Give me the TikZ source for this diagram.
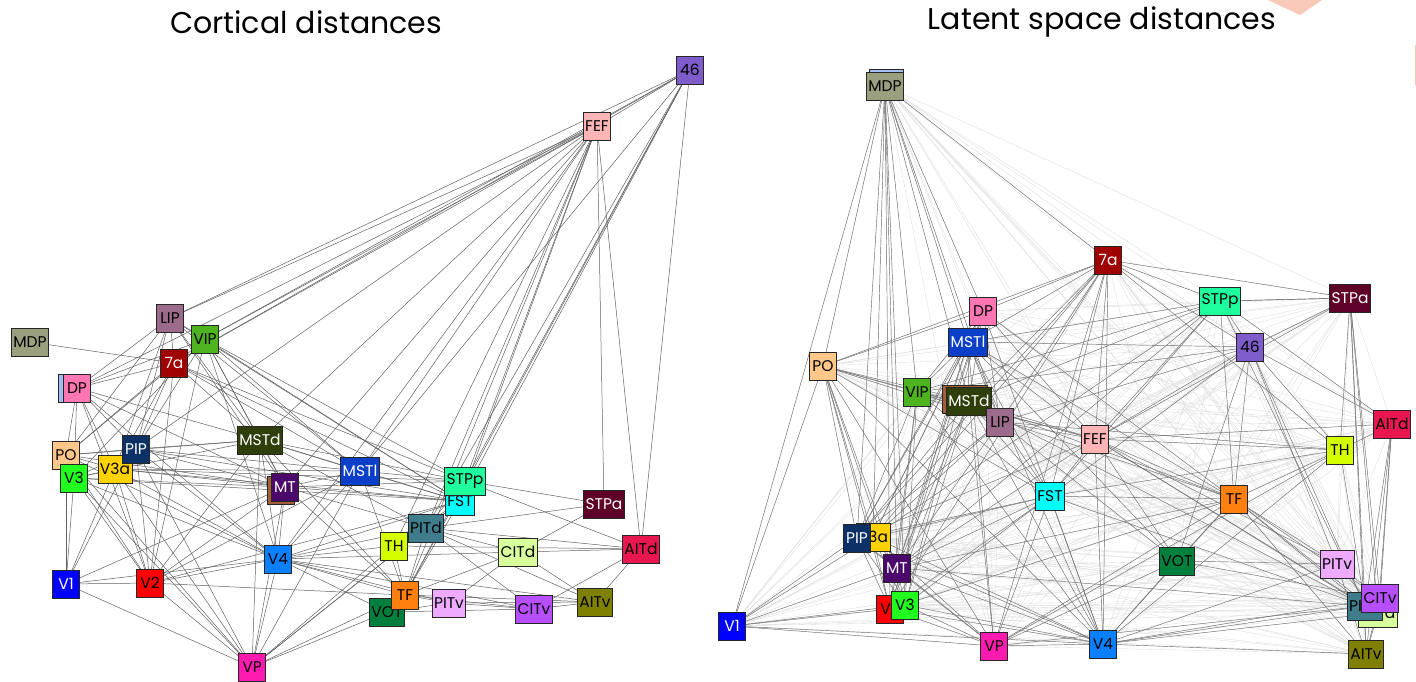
\documentclass[tikz,border=0pt]{standalone}
\usepackage{fontspec}
\setmainfont{Poppins}
\pgfdeclarelayer{bgl}
\pgfdeclarelayer{edges}
\pgfsetlayers{bgl,edges,main}
\definecolor{c46}{HTML}{7E5CCB}
\definecolor{cFEF}{HTML}{FFB5B5}
\definecolor{cLIP}{HTML}{9C6B8B}
\definecolor{cMDP}{HTML}{9AA07E}
\definecolor{cVIP}{HTML}{4DB31E}
\definecolor{c7a}{HTML}{A00000}
\definecolor{cDP}{HTML}{FF76B2}
\definecolor{cDPb}{HTML}{A3BCF2}
\definecolor{cPO}{HTML}{FFC88A}
\definecolor{cV3}{HTML}{20FF20}
\definecolor{cPIP}{HTML}{0B3166}
\definecolor{cV3a}{HTML}{FFD200}
\definecolor{cMSTd}{HTML}{2E3F0A}
\definecolor{cMT}{HTML}{4B0A6B}
\definecolor{cMTb}{HTML}{A45F3A}
\definecolor{cMSTl}{HTML}{0B3FC9}
\definecolor{cSTPp}{HTML}{1EFF9E}
\definecolor{cFST}{HTML}{00FFFF}
\definecolor{cSTPa}{HTML}{5E0028}
\definecolor{cPITd}{HTML}{3F7D8D}
\definecolor{cTH}{HTML}{D4FF00}
\definecolor{cCITd}{HTML}{D9FF9C}
\definecolor{cAITd}{HTML}{E8174F}
\definecolor{cV1}{HTML}{0000FF}
\definecolor{cV2}{HTML}{FF0000}
\definecolor{cV4}{HTML}{0A80FF}
\definecolor{cTF}{HTML}{FF800E}
\definecolor{cVOT}{HTML}{00803C}
\definecolor{cPITv}{HTML}{EEAAFF}
\definecolor{cCITv}{HTML}{B84FFF}
\definecolor{cAITv}{HTML}{808000}
\definecolor{cVP}{HTML}{FF1AB0}
\definecolor{corg}{HTML}{F8C8B8}
\newcommand\rn[6]{\node[roi,fill=#5,text=#6] (#1) at (#2,#3) {#4};}
\def\EL{MDP/7a,LIP/VIP,LIP/7a,LIP/DP,LIP/PO,LIP/V3a,LIP/PIP,LIP/MSTd,LIP/MT,LIP/FEF,LIP/46,LIP/MSTl,LIP/FST,
VIP/FEF,VIP/46,VIP/DP,VIP/PO,VIP/V3,VIP/MT,VIP/MSTd,VIP/MSTl,VIP/FST,VIP/STPp,VIP/V4,VIP/V2,VIP/PIP,
7a/DP,7a/PO,7a/V3a,7a/PIP,7a/MSTd,7a/MSTl,7a/FEF,7a/46,7a/STPp,7a/FST,7a/V2,
DP/PO,DP/V3,DP/V3a,DP/MSTd,DP/V4,DP/FEF,DP/PIP,DP/V2,DP/MT,
PO/V1,PO/V2,PO/V3,PO/V3a,PO/PIP,PO/MT,PO/V4,PO/VP,PO/MSTd,
V3/V1,V3/V2,V3/V4,V3/MT,V3/VP,V3/PIP,V3/FST,V3/MSTd,V3/V3a,
V3a/V1,V3a/V2,V3a/V4,V3a/MT,V3a/MSTl,V3a/FST,V3a/VP,V3a/PIP,V3a/STPp,
PIP/V1,PIP/V2,PIP/MT,PIP/MSTd,PIP/MSTl,PIP/FST,PIP/V4,PIP/VP,
MSTd/MT,MSTd/MSTl,MSTd/FST,MSTd/V4,MSTd/V2,MSTd/VP,MSTd/TF,MSTd/STPp,MSTd/PITd,
MT/MSTl,MT/FST,MT/V1,MT/V2,MT/V4,MT/VP,MT/TF,MT/STPp,MT/PITd,
MSTl/FST,MSTl/STPp,MSTl/V4,MSTl/TF,MSTl/VP,MSTl/FEF,MSTl/V2,
FST/STPp,FST/V4,FST/TF,FST/PITd,FST/TH,FST/FEF,FST/46,FST/V2,FST/VP,
STPp/STPa,STPp/AITd,STPp/FEF,STPp/46,STPp/TF,STPp/PITd,
STPa/PITd,STPa/CITd,STPa/FEF,FEF/46,FEF/MSTd,FEF/MT,FEF/PIP,FEF/PITd,FEF/TF,FEF/AITd,FEF/V4,FEF/TH,
46/AITd,46/PITd,46/TF,46/MSTl,
PITd/TF,PITd/TH,PITd/CITd,PITd/CITv,PITd/AITd,PITd/V4,PITd/AITv,PITd/VP,
TH/TF,TH/V4,TH/VP,TH/AITd,
CITd/AITd,CITd/AITv,CITd/TF,CITd/PITv,CITd/V4,
AITd/AITv,AITd/CITv,
V1/V2,V1/V4,V1/VP,V2/V4,V2/VP,V2/TF,
V4/VP,V4/TF,V4/VOT,V4/PITv,V4/CITv,V4/AITv,
TF/VOT,TF/PITv,TF/VP,TF/CITv,TF/AITv,
VOT/VP,VOT/PITv,VOT/CITv,PITv/CITv,PITv/AITv,CITv/AITv}
\def\ER{MDP/V1,MDP/DP,MDP/MSTl,MDP/VIP,MDP/PIP,MDP/V3a,MDP/MT,MDP/V2,MDP/V3,MDP/PO,MDP/LIP,MDP/MSTd,
7a/STPa,STPp/STPa,STPa/46,STPa/TH,STPa/CITv,STPa/AITv,46/TH,46/PITv,46/VOT,7a/TH,7a/V4,7a/VP,
FEF/VOT,FEF/PITv,FEF/CITd,LIP/TH,LIP/VOT,MSTl/VOT,VIP/TF,DP/TF,PO/FST,PO/FEF}
\def\ALL{MDP,7a,STPp,STPa,DP,46,MSTl,PO,VIP,MSTd,LIP,FEF,AITd,TH,FST,TF,PIP,V3a,MT,VOT,PITv,CITv,PITd,CITd,V2,V3,V1,VP,V4,AITv}
\begin{document}
\begin{tikzpicture}[x=1pt,y=-1pt,
  roi/.style={draw=black!85,line width=0.9pt,minimum width=27pt,minimum height=28pt,
    inner xsep=2pt,inner ysep=0pt,font=\fontsize{15.5}{15.5}\selectfont},
  ledge/.style={draw=black!62,line width=0.5pt},
  redge/.style={draw=black!55,line width=0.45pt},
  faint/.style={draw=black!13,line width=0.35pt},
  title/.style={font=\fontsize{30}{32}\selectfont,inner sep=0pt}]
\begin{pgfonlayer}{bgl}
\fill[white] (0,0) rectangle (1416,681);
\fill[corg] (1268,0) -- (1322,0) -- (1300,15) -- cycle;
\draw[corg,line width=0.8pt] (1415,45) -- (1415,85);
\end{pgfonlayer}
\useasboundingbox (0,0) rectangle (1416,681);
\node[title] (t1) at (306,22) {Cortical distances};
\node[title] (t2) at (1102,22) {Latent space distances};
% ---------------- left graph
\rn{L46}{690}{70}{46}{c46}{black}
\rn{LFEF}{597}{126}{FEF}{cFEF}{black}
\rn{LMDP}{30}{342}{MDP}{cMDP}{black}
\rn{LLIP}{170}{318}{LIP}{cLIP}{black}
\rn{LVIP}{205}{339}{VIP}{cVIP}{black}
\rn{L7a}{174}{363}{7a}{c7a}{white}
\node[roi,fill=cDPb] (LDPb) at (72,388) {\phantom{DP}};
\rn{LDP}{77}{388}{DP}{cDP}{black}
\rn{LPO}{66}{455}{PO}{cPO}{black}
\rn{LV3}{74}{478}{V3}{cV3}{black}
\rn{LV3a}{115}{469}{V3a}{cV3a}{black}
\rn{LPIP}{136}{449}{PIP}{cPIP}{white}
\rn{LMSTd}{260}{440}{MSTd}{cMSTd}{white}
\node[roi,fill=cMTb] (LMTb) at (281,490) {\phantom{MT}};
\rn{LMT}{285}{487}{MT}{cMT}{white}
\rn{LMSTl}{360}{471}{MSTl}{cMSTl}{white}
\rn{LFST}{460}{501}{FST}{cFST}{black}
\rn{LSTPp}{465}{481}{STPp}{cSTPp}{black}
\rn{LSTPa}{604}{504}{STPa}{cSTPa}{white}
\rn{LPITd}{426}{528}{PITd}{cPITd}{black}
\rn{LTH}{394}{546}{TH}{cTH}{black}
\rn{LCITd}{518}{552}{CITd}{cCITd}{black}
\rn{LAITd}{641}{549}{AITd}{cAITd}{black}
\rn{LV1}{66}{584}{V1}{cV1}{white}
\rn{LV2}{150}{583}{V2}{cV2}{black}
\rn{LV4}{278}{559}{V4}{cV4}{black}
\rn{LVOT}{387}{612}{VOT}{cVOT}{black}
\rn{LTF}{405}{595}{TF}{cTF}{black}
\rn{LPITv}{449}{603}{PITv}{cPITv}{black}
\rn{LCITv}{534}{609}{CITv}{cCITv}{black}
\rn{LAITv}{595}{602}{AITv}{cAITv}{black}
\rn{LVP}{252}{667}{VP}{cVP}{black}
% ---------------- right graph
\node[roi,fill=cDPb,minimum width=34pt] (RMDPb) at (886,83) {};
\rn{RMDP}{885}{86}{MDP}{cMDP}{black}
\rn{R7a}{1108}{260}{7a}{c7a}{white}
\rn{RSTPp}{1220}{301}{STPp}{cSTPp}{black}
\rn{RSTPa}{1350}{298}{STPa}{cSTPa}{white}
\rn{RDP}{983}{311}{DP}{cDP}{black}
\rn{R46}{1250}{347}{46}{c46}{black}
\rn{RMSTl}{968}{342}{MSTl}{cMSTl}{white}
\rn{RPO}{823}{366}{PO}{cPO}{black}
\rn{RVIP}{917}{392}{VIP}{cVIP}{black}
\node[roi,fill=cMTb] (RMSTdb) at (965,399) {\phantom{MSTd}};
\rn{RMSTd}{969}{401}{MSTd}{cMSTd}{white}
\rn{RLIP}{1000}{422}{LIP}{cLIP}{black}
\rn{RFEF}{1095}{439}{FEF}{cFEF}{black}
\rn{RAITd}{1392}{424}{AITd}{cAITd}{black}
\rn{RTH}{1340}{450}{TH}{cTH}{black}
\rn{RFST}{1050}{496}{FST}{cFST}{black}
\rn{RTF}{1234}{499}{TF}{cTF}{black}
\rn{RV3a}{873}{537}{V3a}{cV3a}{black}
\rn{RPIP}{857}{538}{PIP}{cPIP}{white}
\rn{RMT}{897}{568}{MT}{cMT}{white}
\rn{RVOT}{1177}{561}{VOT}{cVOT}{black}
\rn{RPITv}{1337}{564}{PITv}{cPITv}{black}
\rn{RCITd}{1378}{613}{CITd}{cCITd}{black}
\rn{RPITd}{1365}{606}{PITd}{cPITd}{black}
\rn{RCITv}{1380}{598}{CITv}{cCITv}{black}
\rn{RV2}{890}{609}{V2}{cV2}{black}
\rn{RV3}{905}{605}{V3}{cV3}{black}
\rn{RV1}{732}{626}{V1}{cV1}{white}
\rn{RVP}{994}{646}{VP}{cVP}{black}
\rn{RV4}{1103}{644}{V4}{cV4}{black}
\rn{RAITv}{1366}{654}{AITv}{cAITv}{black}
% ---------------- edges
\begin{pgfonlayer}{edges}
\foreach \a/\b in \EL {\draw[ledge] (L\a.center) -- (L\b.center);}
\foreach \a [count=\i] in \ALL {
  \foreach \b [count=\j] in \ALL {
    \ifnum\j>\i \draw[faint] (R\a.center) -- (R\b.center);\fi
  }
}
\foreach \a/\b in \EL {\draw[redge] (R\a.center) -- (R\b.center);}
\foreach \a/\b in \ER {\draw[redge] (R\a.center) -- (R\b.center);}
\end{pgfonlayer}
\end{tikzpicture}
\end{document}
